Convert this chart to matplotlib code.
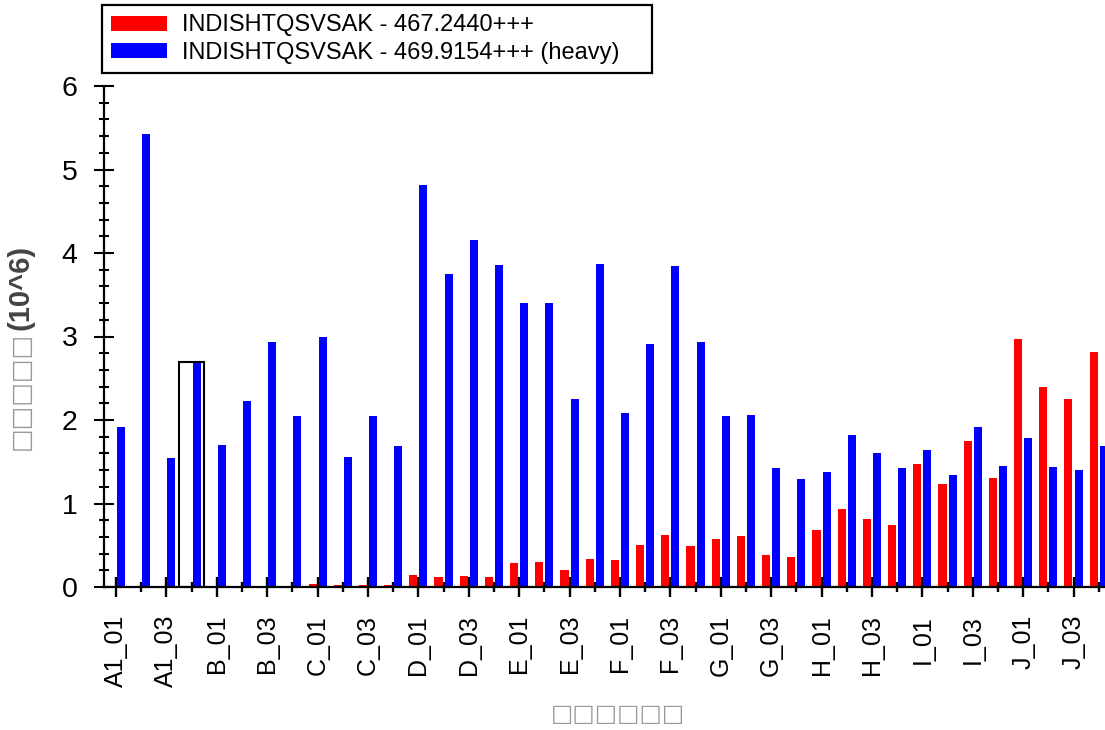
import matplotlib
matplotlib.use('Agg')
import matplotlib.pyplot as plt
from matplotlib.patches import Rectangle
from matplotlib.ticker import MultipleLocator, FixedLocator
import numpy as np

categories = ['A1_01', 'A1_02', 'A1_03', 'A1_04',
              'B_01', 'B_02', 'B_03', 'B_04',
              'C_01', 'C_02', 'C_03', 'C_04',
              'D_01', 'D_02', 'D_03', 'D_04',
              'E_01', 'E_02', 'E_03', 'E_04',
              'F_01', 'F_02', 'F_03', 'F_04',
              'G_01', 'G_02', 'G_03', 'G_04',
              'H_01', 'H_02', 'H_03', 'H_04',
              'I_01', 'I_02', 'I_03', 'I_04',
              'J_01', 'J_02', 'J_03', 'J_04']

# values in units of 10^6
light = [0.005, 0.008, 0.003, 0.005,
         0.008, 0.008, 0.008, 0.012,
         0.035, 0.02, 0.02, 0.02,
         0.14, 0.12, 0.13, 0.12,
         0.29, 0.30, 0.20, 0.34,
         0.32, 0.50, 0.62, 0.49,
         0.57, 0.61, 0.38, 0.36,
         0.68, 0.93, 0.81, 0.74,
         1.47, 1.23, 1.75, 1.31,
         2.97, 2.40, 2.25, 2.81]

heavy = [1.92, 5.43, 1.55, 2.69,
         1.70, 2.23, 2.93, 2.05,
         2.99, 1.56, 2.05, 1.69,
         4.81, 3.75, 4.16, 3.86,
         3.40, 3.40, 2.25, 3.87,
         2.08, 2.91, 3.84, 2.93,
         2.05, 2.06, 1.43, 1.29,
         1.38, 1.82, 1.60, 1.43,
         1.64, 1.34, 1.92, 1.45,
         1.78, 1.44, 1.40, 1.69]

series_labels = ['INDISHTQSVSAK - 467.2440+++',
                 'INDISHTQSVSAK - 469.9154+++ (heavy)']
highlight_index = 3
y_label_units = '(10^6)'
y_label_missing = '\u25a1\u25a1\u25a1\u25a1\u25a1'
x_label_missing = '\u25a1\u25a1\u25a1\u25a1\u25a1\u25a1'

plt.rcParams['font.family'] = ['Liberation Sans', 'DejaVu Sans']

W, H = 1105, 730
fig = plt.figure(figsize=(W / 100, H / 100), dpi=100)
ax = fig.add_axes([104 / W, 1 - 587 / H, 1 - 104 / W, (587 - 86) / H])

x = np.arange(len(categories))
bw = 0.32
ax.bar(x - 0.2, light, width=bw, color='#ff0000', label=series_labels[0], zorder=2)
ax.bar(x + 0.2, heavy, width=bw, color='#0000ff', label=series_labels[1], zorder=2)

# selection highlight box
hv = max(light[highlight_index], heavy[highlight_index])
ax.add_patch(Rectangle((highlight_index - 0.5, 0), 1.0, hv, fill=False,
                       edgecolor='black', linewidth=1.5, zorder=3))

ax.set_xlim(-0.476, 39.25)
ax.set_ylim(0, 6)

for s in ['top', 'right']:
    ax.spines[s].set_visible(False)
ax.spines['left'].set_linewidth(1.6)
ax.spines['bottom'].set_linewidth(1.6)
ax.spines['left'].set_bounds(0, 6)

major_x = x[::2]
minor_x = x[1::2]
ax.xaxis.set_major_locator(FixedLocator(major_x))
ax.xaxis.set_minor_locator(FixedLocator(minor_x))
ax.set_xticklabels([categories[i] for i in major_x], rotation=90, fontsize=18)
ax.tick_params(axis='x', which='major', direction='inout', length=14, width=1.7, pad=13)
ax.tick_params(axis='x', which='minor', direction='inout', length=7, width=1.7)

ax.yaxis.set_major_locator(MultipleLocator(1))
ax.yaxis.set_minor_locator(MultipleLocator(0.2))
ax.tick_params(axis='y', which='major', direction='inout', length=14.4, width=1.5,
               labelsize=20.5, pad=12)
ax.tick_params(axis='y', which='minor', direction='inout', length=7.2, width=1.5)

# axis titles (original glyphs are rendered as missing-glyph boxes)
fig.text(21 / W, 1 - 330 / H, y_label_units, rotation=90, ha='center', va='bottom',
         fontsize=21, fontweight='bold', color='#444444')
fig.text(21 / W, 1 - 332 / H, y_label_missing, rotation=90, ha='center', va='top',
         fontsize=18, color='#999999', family=['DejaVu Sans'])
fig.text(618 / W, 1 - 714 / H, x_label_missing, ha='center', va='center',
         fontsize=17, color='#999999', family=['DejaVu Sans'])

leg = ax.legend(loc='upper left',
                bbox_to_anchor=(102 / W, 1 - 5 / H - 0.01, (652 - 102) / W, 0.01),
                bbox_transform=fig.transFigure, mode='expand', borderaxespad=0,
                fontsize=17, handlelength=2.37, handleheight=0.6, handletextpad=0.6,
                borderpad=0.4, labelspacing=0.22, fancybox=False, framealpha=1,
                edgecolor='black')
leg.get_frame().set_linewidth(1.6)

fig.savefig('out.png', dpi=100)
